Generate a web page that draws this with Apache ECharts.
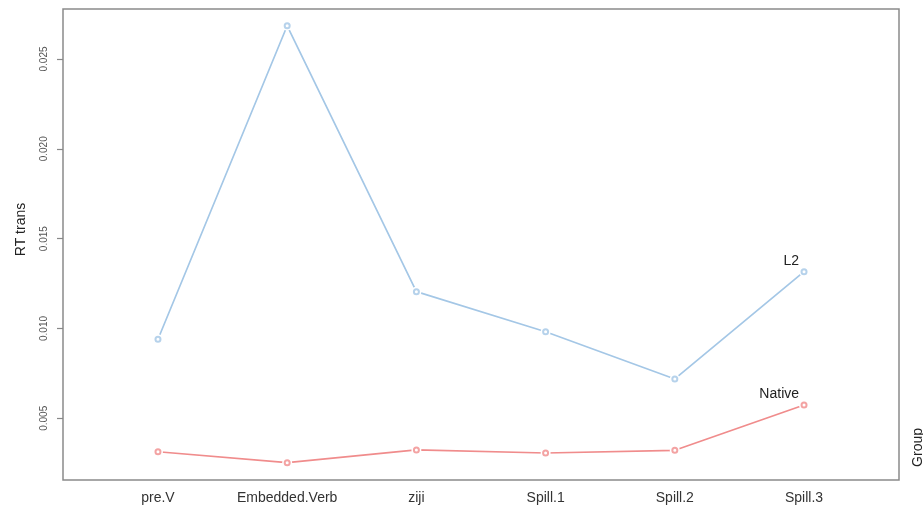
<!DOCTYPE html>
<html>
<head>
<meta charset="utf-8">
<script src="https://cdn.jsdelivr.net/npm/echarts@6/dist/echarts.min.js"></script>
<style>
  html, body { margin: 0; padding: 0; background: #fff; }
  #chart { width: 923px; height: 512px; }
</style>
</head>
<body>
<div id="chart"></div>
<script>
// Regions of the sentence, in reading order
const regions = ['pre.V', 'Embedded.Verb', 'ziji', 'Spill.1', 'Spill.2', 'Spill.3'];

// Mean transformed reading times per group
const groupNames = ['L2', 'Native'];
const rtL2 = [0.00940, 0.02685, 0.01205, 0.00982, 0.00719, 0.01316];
const rtNative = [0.00314, 0.00253, 0.00324, 0.00307, 0.00322, 0.00574];

// Y-axis tick values
const yTicks = [0.005, 0.010, 0.015, 0.020, 0.025];

const colorL2 = '#a4c7e6';
const colorNative = '#f08c8c';
const textFont = '"Liberation Sans", Arial, sans-serif';

const toPoints = vals => vals.map((v, i) => [i, v]);

// Line with white discs under the points, so the segments stop short of each marker
function lineSeries(name, vals, color) {
  const pts = toPoints(vals);
  const last = pts.length - 1;
  return {
    name: name,
    type: 'line',
    data: pts.map((p, i) => i === last ? {
      value: p,
      label: {
        show: true,
        formatter: name,
        position: 'top',
        align: 'right',
        distance: 5,
        offset: [-5, 6],
        color: '#222',
        fontSize: 14,
        fontFamily: textFont
      }
    } : p),
    symbol: 'circle',
    symbolSize: 10,
    itemStyle: { color: '#fff', borderWidth: 0 },
    lineStyle: { color: color, width: 1.7 },
    emphasis: { disabled: true },
    z: 2
  };
}

function markerSeries(name, vals, color) {
  return {
    name: name + ' points',
    type: 'scatter',
    data: toPoints(vals),
    symbol: 'emptyCircle',
    symbolSize: 5,
    itemStyle: { color: color, borderColor: color, borderWidth: 1.2 },
    emphasis: { disabled: true },
    z: 3
  };
}

const chart = echarts.init(document.getElementById('chart'), null, { renderer: 'canvas' });

chart.setOption({
  animation: false,
  backgroundColor: '#fff',
  grid: {
    left: 63, right: 24, top: 9, bottom: 32,
    show: true,
    borderColor: '#8a8a8a',
    borderWidth: 1.5,
    backgroundColor: 'transparent'
  },
  xAxis: {
    type: 'value',
    min: -0.735,
    max: 5.735,
    axisLine: { show: false, onZero: false },
    axisTick: { show: false },
    splitLine: { show: false },
    axisLabel: {
      customValues: regions.map((_, i) => i),
      formatter: v => regions[Math.round(v)] || '',
      margin: 11,
      color: '#333',
      fontSize: 14,
      fontFamily: textFont
    }
  },
  yAxis: {
    type: 'value',
    min: 0.001566,
    max: 0.027783,
    name: 'RT trans',
    nameLocation: 'middle',
    nameGap: 35,
    nameRotate: 90,
    nameTextStyle: {
      color: '#222',
      fontSize: 14,
      fontFamily: textFont,
      padding: [0, 0, 0, 30]
    },
    axisLine: { show: false, onZero: false },
    axisTick: {
      show: true,
      customValues: yTicks,
      length: 6,
      lineStyle: { color: '#888', width: 1.2 }
    },
    splitLine: { show: false },
    axisLabel: {
      customValues: yTicks,
      rotate: 90,
      margin: 14,
      color: '#555',
      fontSize: 10,
      fontFamily: textFont,
      formatter: v => v.toFixed(3)
    }
  },
  graphic: [{
    type: 'text',
    left: 911,
    top: 428,
    rotation: Math.PI / 2,
    style: {
      text: 'Group',
      fill: '#222',
      fontSize: 14,
      fontFamily: textFont
    }
  }],
  series: [
    lineSeries(groupNames[0], rtL2, colorL2),
    lineSeries(groupNames[1], rtNative, colorNative),
    markerSeries(groupNames[0], rtL2, colorL2),
    markerSeries(groupNames[1], rtNative, colorNative)
  ]
});
</script>
</body>
</html>
